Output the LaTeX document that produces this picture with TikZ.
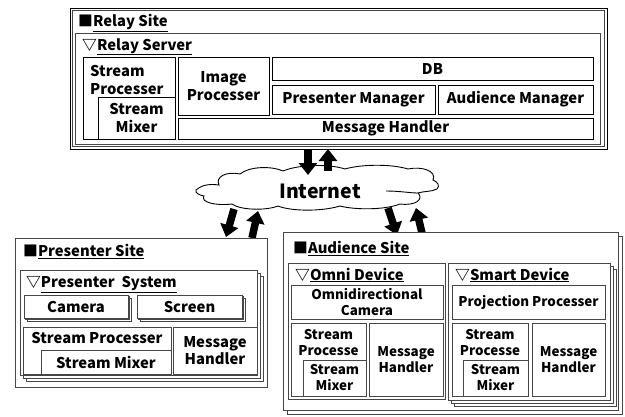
\documentclass[tikz,border=0pt]{standalone}
\usepackage{fontspec}
\setmainfont{Noto Sans CJK JP}
\usetikzlibrary{arrows.meta}
\definecolor{edge}{RGB}{70,70,70}
% \bx[opts]{name}{x1}{y1}{x2}{y2}{text}: a box given by its corners
\newcommand\bx[7][]{%
  \node[box,#1,minimum width={((#5)-(#3))*1pt},minimum height={((#6)-(#4))*1pt}]
    (#2) at ({((#3)+(#5))/2},{((#4)+(#6))/2}) {#7};}
% \stk[opts]{name}{x1}{y1}{x2}{y2}{offset}{text}: a box with two copies stacked behind it
\newcommand\stk[8][]{%
  \bx{#2-b}{(#3)+2*(#7)}{(#4)+2*(#7)}{(#5)+2*(#7)}{(#6)+2*(#7)}{}
  \bx{#2-a}{(#3)+(#7)}{(#4)+(#7)}{(#5)+(#7)}{(#6)+(#7)}{}
  \bx[#1]{#2}{#3}{#4}{#5}{#6}{#8}}
\begin{document}
\begin{tikzpicture}[x=1pt,y=-1pt,
  txt/.style={font=\fontsize{14.8}{17.3}\selectfont\bfseries},
  sml/.style={font=\fontsize{13.4}{16}\selectfont\bfseries},
  box/.style={draw=edge, line width=0.8pt, fill=white, inner sep=0pt, txt, align=center},
  ttl/.style={inner sep=0pt, anchor=base west, txt},
  lbl/.style={inner sep=0pt, txt, align=center},
  bigarrow/.style={line width=7.5pt, -{Triangle[width=18pt,length=12pt]}, black},
  cloudline/.style={draw=black, line width=0.9pt, fill=white}
]
\useasboundingbox (0,0) rectangle (625,416);

% ---------------- Relay site ----------------
\bx[draw=black]{relay}{70}{8}{607}{149}{}
\bx{relayin}{72.2}{10.2}{604.8}{146.8}{}
\node[ttl] (relayttl) at (78,26.7) {■\underline{Relay Site}};
\bx{server}{75}{33}{600}{144}{}
\node[ttl] (serverttl) at (82,50) {▽\underline{Relay Server}};
\bx[draw=black]{rsp}{83}{57}{175}{139}{}
\node[lbl, anchor=base west, align=left] (rspt) at (90,94) {Stream\\Processer};
\bx[draw=black]{rsm}{98}{97}{175}{139}{Stream\\Mixer}
\bx[draw=black]{rip}{178}{57}{269}{115}{Image\\Processer}
\bx[draw=black]{rdb}{272}{57}{593}{80}{DB}
\bx[draw=black]{rpm}{272}{85}{435}{114}{Presenter Manager}
\bx[draw=black]{ram}{438}{85}{593}{114}{Audience Manager}
\bx[draw=black]{rmh}{178}{118}{593}{139}{Message Handler}

% ---------------- Internet cloud ----------------
\draw[cloudline] (196,190)
  .. controls (203,184) and (211,184) .. (219,185)
  .. controls (215,177) and (226,171) .. (240,174)
  .. controls (250,166) and (272,166) .. (283,171)
  .. controls (300,164) and (330,164) .. (345,169)
  .. controls (362,164) and (392,164) .. (408,169)
  .. controls (422,166) and (437,171) .. (433,180)
  .. controls (438,182) and (440,186) .. (437,189)
  .. controls (431,192) and (424,191) .. (418,193)
  .. controls (424,199) and (416,206) .. (400,204)
  .. controls (385,210) and (355,210) .. (340,206)
  .. controls (320,212) and (290,211) .. (278,206)
  .. controls (265,211) and (240,210) .. (232,204)
  .. controls (215,206) and (200,202) .. (204,196)
  .. controls (199,195) and (195,193) .. (196,190) -- cycle;
\draw[line width=0.9pt] (386,191) .. controls (400,191) and (410,193) .. (418,193);
\node[inner sep=0pt, font=\fontsize{19.5}{22}\selectfont\bfseries] (net) at (320,191) {Internet};

% ---------------- arrows between the sites and the cloud ----------------
\coordinate (ta) at (308,149);  \coordinate (tb) at (308,175);
\coordinate (tc) at (328,171);  \coordinate (td) at (328,149);
\draw[bigarrow] (ta) -- (tb);
\draw[bigarrow] (tc) -- (td);
\coordinate (la) at (234,209);  \coordinate (lb) at (226,237);
\coordinate (lc) at (252,238);  \coordinate (ld) at (258,211);
\draw[bigarrow] (la) -- (lb);
\draw[bigarrow] (lc) -- (ld);
\coordinate (ra) at (388,208);  \coordinate (rb) at (397,235);
\coordinate (rc) at (422,233);  \coordinate (rd) at (416,208);
\draw[bigarrow] (ra) -- (rb);
\draw[bigarrow] (rc) -- (rd);

% ---------------- Presenter site ----------------
\bx{psite}{15}{238}{267}{387}{}
\node[ttl] (psitettl) at (23,256.7) {■\underline{Presenter Site}};
\stk{psys}{20}{270}{257}{375}{3.3}{}
\node[ttl] (psysttl) at (26,287.3) {▽\underline{Presenter\ \ System}};
\stk{pcam}{24}{295}{128}{318}{1.7}{Camera}
\stk{pscr}{137}{295}{242}{318}{1.7}{Screen}
\bx{psp}{23}{327}{171}{374}{}
\node[lbl, anchor=base] (pspt) at (97,343.3) {Stream Processer};
\bx{psm}{41}{350}{171}{374}{Stream Mixer}
\bx{pmh}{173}{327}{257}{374}{Message\\Handler}

% ---------------- Audience site ----------------
\bx{asite-a}{287}{236}{622}{414}{}
\bx{asite}{283}{232}{618}{410}{}
\node[ttl] (asitettl) at (293,253.3) {■\underline{Audience Site}};

\bx{omni}{288}{263}{445}{399}{}
\node[ttl] (omnittl) at (295,280) {▽\underline{Omni Device}};
\bx[sml]{ocam}{291}{285}{443}{319}{Omnidirectional\\Camera}
\bx{osp}{291}{323}{366}{396}{}
\node[lbl, sml, anchor=base] (ospt) at (328.5,355.6) {Stream\\Processe};
\bx[sml]{osm}{303}{360}{366}{396}{Stream\\Mixer}
\bx[sml]{omh}{369}{323}{443}{396}{Message\\Handler}

\stk{smart}{448}{263}{610}{400}{3.3}{}
\node[ttl] (smartttl) at (455,280) {▽\underline{Smart Device}};
\bx[sml]{sproj}{452}{285}{605}{319}{Projection Processer}
\bx{ssp}{452}{323}{528}{396}{}
\node[lbl, sml, anchor=base] (sspt) at (490,355.6) {Stream\\Processe};
\bx[sml]{ssm}{463}{360}{528}{396}{Stream\\Mixer}
\bx[sml]{smh}{532}{323}{605}{396}{Message\\Handler}
\end{tikzpicture}
\end{document}
